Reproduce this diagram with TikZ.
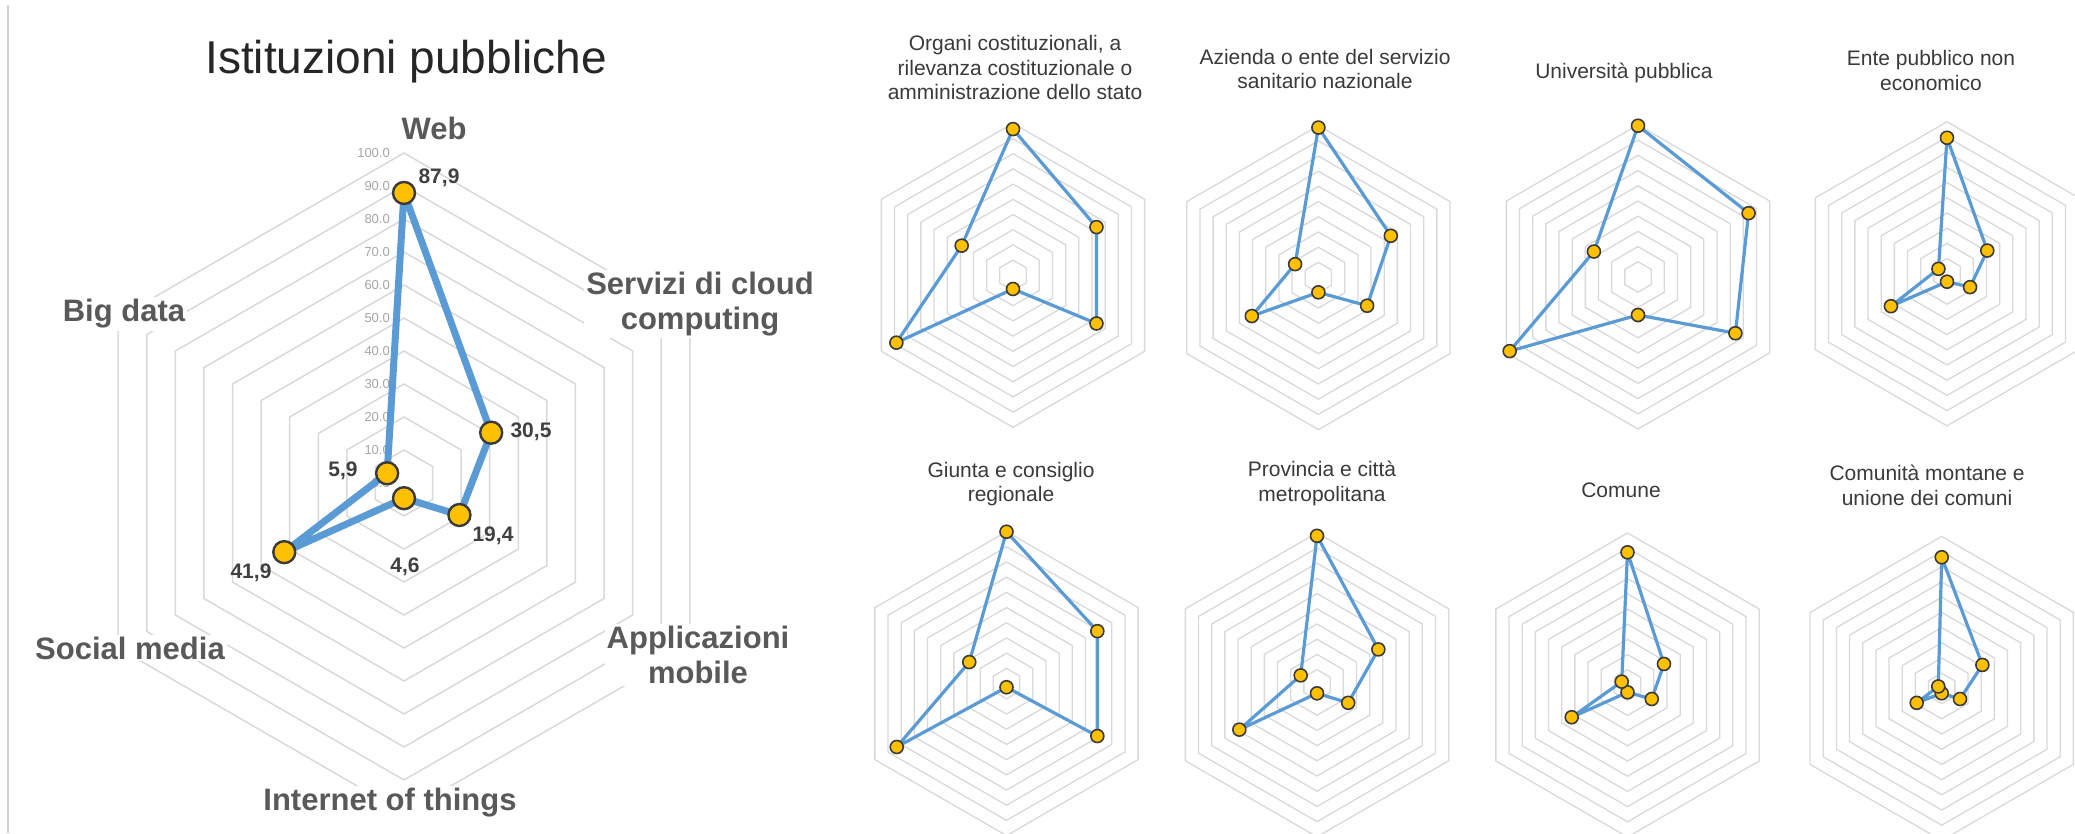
\documentclass[tikz,border=0pt]{standalone}
\usepackage{fontspec}
\setmainfont{Liberation Sans}
\usetikzlibrary{calc}
\definecolor{gridc}{HTML}{D9D9D9}
\definecolor{bluec}{HTML}{5B9BD5}
\definecolor{goldc}{HTML}{FFC000}
\definecolor{outc}{HTML}{3A3A3A}
\definecolor{labc}{HTML}{595959}
\definecolor{valc}{HTML}{404040}
\definecolor{ringc}{HTML}{A6A6A6}
\definecolor{titc}{HTML}{262626}
\definecolor{subc}{HTML}{3A3A3A}
\definecolor{framec}{HTML}{D0D0D0}

% grid of hexagonal rings: cx, cy, ring spacing, number of rings, line width
\newcommand\hexgrid[5]{%
  \begin{scope}[shift={(#1,#2)}]
    \foreach \k in {1,...,#4}{%
      \draw[gridc, line width=#5, line join=miter]
        (-90:{\k*#3}) -- (-30:{\k*#3}) -- (30:{\k*#3}) -- (90:{\k*#3})
        -- (150:{\k*#3}) -- (210:{\k*#3}) -- cycle;
    }
  \end{scope}}

% data polygon: prefix, cx, cy, px per unit, values, line width, marker style
\newcommand\radardata[7]{%
  \foreach \v [count=\i from 0] in {#5}{%
    \coordinate (#1-\i) at ($(#2,#3)+({-90+60*\i}:{\v*#4})$);
  }
  \draw[bluec, line width=#6, line join=round]
    (#1-0) -- (#1-1) -- (#1-2) -- (#1-3) -- (#1-4) -- (#1-5) -- cycle;
  \foreach \i in {0,...,5}{%
    \node[#7] (#1-m\i) at (#1-\i) {};
  }}

\begin{document}
\begin{tikzpicture}[x=1pt,y=-1pt,
  bigmark/.style={circle, draw=outc, fill=goldc, line width=2.4pt, minimum size=22pt, inner sep=0pt},
  smallmark/.style={circle, draw=outc, fill=goldc, line width=1.6pt, minimum size=13pt, inner sep=0pt},
  axislab/.style={font=\fontsize{31}{35}\selectfont\bfseries, text=labc, fill=white, inner sep=2pt, align=center},
  vallab/.style={font=\fontsize{21}{24}\selectfont\bfseries, text=valc, inner sep=0pt},
  ringlab/.style={font=\fontsize{13}{15}\selectfont, text=ringc, inner sep=0pt, anchor=east},
  subtitle/.style={font=\fontsize{21}{24.5}\selectfont, text=subc, align=center, inner sep=0pt}
]
\useasboundingbox (0,0) rectangle (2075,833);
\fill[white] (0,0) rectangle (2075,833);

% frame line at the left
\coordinate (frametop) at (8,5);
\coordinate (framebot) at (8,833);
\draw[framec, line width=1.2pt] (frametop) -- (framebot);

% ===== main chart =====
\node[font=\fontsize{46}{50}\selectfont, text=titc, inner sep=0pt] (maintitle) at (406,62) {Istituzioni pubbliche};

\hexgrid{404}{483}{33}{10}{1.5pt}

\foreach \k in {0,...,10}{%
  \pgfmathtruncatemacro\val{10*\k}
  \node[ringlab] (ring\k) at (390,{483-33*\k}) {\val.0};
}

\node[axislab] (axweb) at (434,128) {Web};
\node[axislab] (axcloud) at (700,304) {Servizi di cloud\\computing};
\node[axislab] (axmobile) at (698,655) {Applicazioni\\mobile};
\node[axislab] (axiot) at (390,803) {Internet of things};
\node[axislab] (axsocial) at (130,648) {Social media};
\node[axislab] (axbig) at (124,314) {Big data};

\radardata{main}{404}{483}{3.3}{87.9,30.5,19.4,4.6,41.9,5.9}{7pt}{bigmark}

\node[vallab] (v0) at (439,178) {87,9};
\node[vallab] (v1) at (531,432) {30,5};
\node[vallab] (v2) at (493,536) {19,4};
\node[vallab] (v3) at (405,567) {4,6};
\node[vallab] (v4) at (251,573) {41,9};
\node[vallab] (v5) at (343,471) {5,9};

% ===== small charts =====
% top row
\hexgrid{1013}{275.3}{15.2}{10}{1.3pt}
\radardata{c1}{1013}{275.3}{1.52}{96.2,63.4,63.4,9,88.6,39}{3.2pt}{smallmark}
\node[subtitle] (t1) at (1015,67.5) {Organi costituzionali, a\\rilevanza costituzionale o\\amministrazione dello stato};

\hexgrid{1318.4}{277.6}{15.2}{10}{1.3pt}
\radardata{c2}{1318.4}{277.6}{1.52}{98.7,55,37,9.7,50.6,17.7}{3.2pt}{smallmark}
\node[subtitle] (t2) at (1325,69) {Azienda o ente del servizio\\sanitario nazionale};

\hexgrid{1638}{277}{15.2}{10}{1.3pt}
\radardata{c3}{1638}{277}{1.52}{99.5,84,74,25,97.5,33.5}{3.2pt}{smallmark}
\node[subtitle] (t3) at (1624,73) {Università pubblica};

\hexgrid{1947}{273.8}{15.2}{10}{1.3pt}
\radardata{c4}{1947}{273.8}{1.52}{89.5,30.6,17.5,5.2,42.6,6.5}{3.2pt}{smallmark}
\node[subtitle] (t4) at (1931,70.5) {Ente pubblico non\\economico};

% bottom row
\hexgrid{1006.5}{683.6}{15.2}{10}{1.3pt}
\radardata{c5}{1006.5}{683.6}{1.52}{99.9,69,69,2.4,83.4,28.3}{3.2pt}{smallmark}
\node[subtitle] (t5) at (1011,484) {Giunta e consiglio\\regionale};

\hexgrid{1317}{684.8}{15.2}{10}{1.3pt}
\radardata{c6}{1317}{684.8}{1.52}{98,46.6,23.7,5.6,59,12.4}{3.2pt}{smallmark}
\node[subtitle] (t6) at (1322,483.5) {Provincia e città\\metropolitana};

\hexgrid{1627.5}{685}{15.2}{10}{1.3pt}
\radardata{c7}{1627.5}{685}{1.52}{87.3,27.7,18.4,4.8,42.4,4.4}{3.2pt}{smallmark}
\node[subtitle] (t7) at (1621,490) {Comune};

\hexgrid{1941.7}{688.4}{15.2}{10}{1.3pt}
\radardata{c8}{1941.7}{688.4}{1.52}{86.3,30.9,13.9,3.2,19,2.6}{3.2pt}{smallmark}
\node[subtitle] (t8) at (1927,485.5) {Comunità montane e\\unione dei comuni};

\end{tikzpicture}
\end{document}
